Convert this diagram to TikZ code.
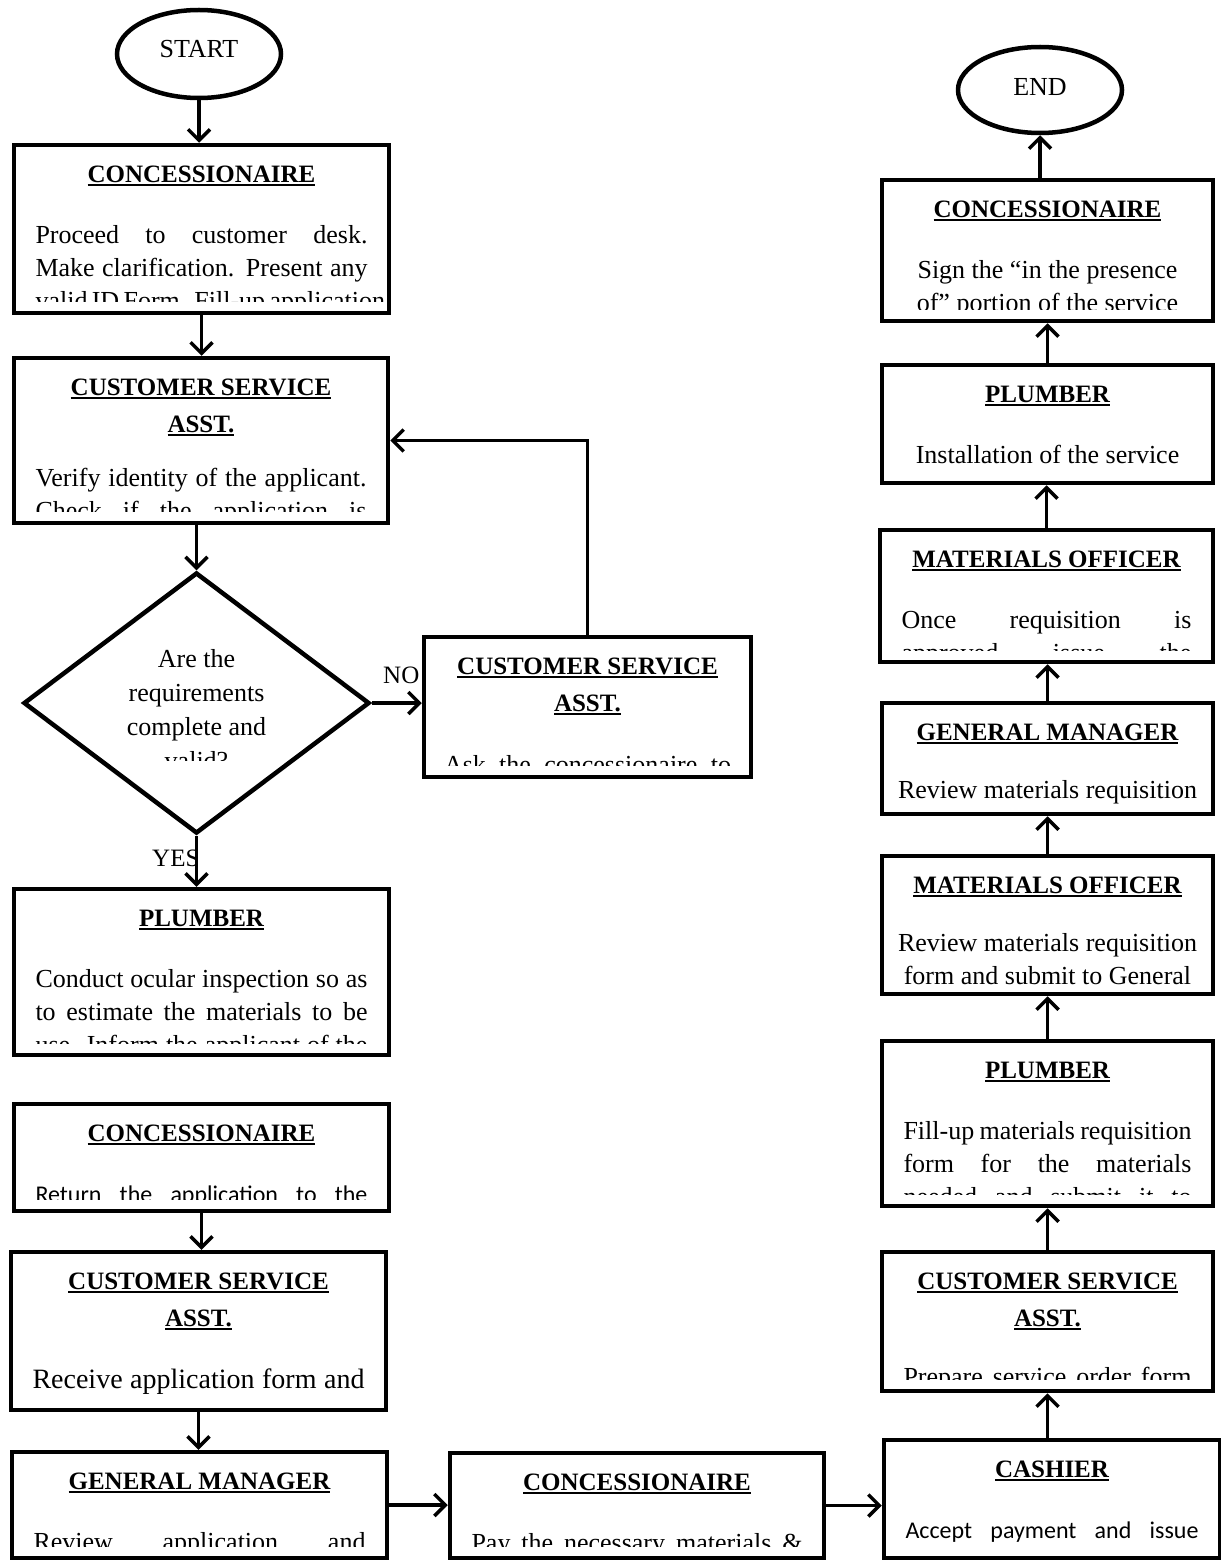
\documentclass[tikz,border=0pt]{standalone}
\usepackage{fontspec}
\setmainfont{Liberation Serif}
\newfontfamily\calfam{Carlito}
\usetikzlibrary{shapes.geometric,arrows.meta}
\newlength{\jw}
\newsavebox{\ttlbox}
\newcommand{\ttl}[1]{\sbox{\ttlbox}{\fontsize{25pt}{33pt}\selectfont\bfseries #1}\rule{0pt}{24pt}\rlap{\rule[-4pt]{\wd\ttlbox}{2pt}}\usebox{\ttlbox}}
\newcommand{\jl}[1]{\makebox[\jw][s]{#1}}
\newcommand{\calf}{\calfam\fontsize{24pt}{33pt}\selectfont}
\begin{document}
\begin{tikzpicture}[x=1pt,y=-1pt,
    boxtext/.code={\def\boxtext{#1}},
    boxcut/.code={\def\boxcut{#1}},
    jw/.code={\setlength{\jw}{#1}},
    inbox/.style={rectangle,anchor=north,inner sep=0pt,minimum size=0pt,align=center},
    procbox/.style={draw,line width=4.5pt,fill=white,inner sep=0pt,boxcut=11pt,
      path picture={
        \node[inbox,font=\fontsize{26pt}{33pt}\selectfont]
          at ([yshift=-11pt]path picture bounding box.north) {\boxtext};
        \fill[white] ([yshift=\boxcut]path picture bounding box.south west) rectangle (path picture bounding box.south east);
      }},
    terminal/.style={ellipse,draw,line width=4.5pt,inner sep=0pt,minimum width=164pt,font=\fontsize{26pt}{30pt}\selectfont},
    lab/.style={anchor=base west,inner sep=0pt,font=\fontsize{25pt}{30pt}\selectfont},
    arr/.style={line width=3.5pt,-{Straight Barb[length=11pt,width=22pt,line width=3.5pt]}}]
  \useasboundingbox (0,0) rectangle (1220,1562);
  % labels first, the boxes cover them
  \node[lab] (nolab) at (383,683) {NO};
  \node[lab] (yeslab) at (152,866) {YES};
  % left column
  \node[terminal,minimum height=88pt,text depth=11pt] (start) at (199,54) {START};
  \node[procbox,minimum width=375pt,minimum height=168pt,jw=332pt,
    boxtext={\ttl{CONCESSIONAIRE}\\[28pt]\jl{Proceed to customer desk.}\\\jl{Make clarification. Present any}\\\jl{valid ID Form. Fill-up application}}] (con1) at (201.5,229) {};
  \node[procbox,minimum width=374pt,minimum height=165pt,jw=331pt,
    boxtext={\ttl{CUSTOMER SERVICE}\\[4pt]\ttl{ASST.}\\[21pt]\jl{Verify identity of the applicant.}\\\jl{Check if the application is}}] (csa1) at (201,440.5) {};
  \node[diamond,draw,line width=4.5pt,fill=white,inner sep=0pt,minimum width=346pt,minimum height=261pt,
    path picture={
      \node[inbox,font=\fontsize{26pt}{34pt}\selectfont]
        at ([yshift=-67.5pt]path picture bounding box.north) {\rule{0pt}{24pt}Are the\\requirements\\complete and\\valid?};
      \fill[white] ([yshift=-187.5pt]path picture bounding box.north west) rectangle (path picture bounding box.south east);
    }] (dec) at (196.5,703) {};
  \node[procbox,minimum width=327pt,minimum height=140pt,jw=287pt,
    boxtext={\ttl{CUSTOMER SERVICE}\\[4pt]\ttl{ASST.}\\[29pt]\jl{Ask the concessionaire to}}] (csa2) at (587.5,707) {};
  \node[procbox,minimum width=375pt,minimum height=166pt,jw=332pt,
    boxtext={\ttl{PLUMBER}\\[28pt]\jl{Conduct ocular inspection so as}\\\jl{to estimate the materials to be}\\\jl{use. Inform the applicant of the}}] (plum1) at (201.5,972) {};
  \node[procbox,minimum width=375pt,minimum height=107pt,jw=332pt,
    boxtext={\ttl{CONCESSIONAIRE}\\[28pt]\jl{\calf Return the application to the}}] (con2) at (201.5,1157.5) {};
  \node[procbox,minimum width=375pt,minimum height=158pt,jw=332pt,
    boxtext={\ttl{CUSTOMER SERVICE}\\[4pt]\ttl{ASST.}\\[29pt]\jl{\fontsize{28pt}{33pt}\selectfont Receive application form and}}] (csa3) at (198.5,1331) {};
  \node[procbox,minimum width=375pt,minimum height=106pt,jw=332pt,
    boxtext={\ttl{GENERAL MANAGER}\\[28pt]\jl{Review application and}}] (gm1) at (199.5,1505) {};
  % bottom row
  \node[procbox,minimum width=374pt,minimum height=105pt,jw=331pt,
    boxtext={\ttl{CONCESSIONAIRE}\\[28pt]\jl{Pay the necessary materials \&}}] (con3) at (637,1505.5) {};
  \node[procbox,minimum width=336pt,minimum height=118pt,jw=293pt,
    boxtext={\ttl{CASHIER}\\[28pt]\jl{\calf Accept payment and issue}}] (cash) at (1052,1499) {};
  % right column
  \node[procbox,minimum width=331pt,minimum height=139pt,jw=288pt,
    boxtext={\ttl{CUSTOMER SERVICE}\\[4pt]\ttl{ASST.}\\[26pt]\jl{Prepare service order form}}] (csa4) at (1047.5,1321.5) {};
  \node[procbox,minimum width=331pt,minimum height=165pt,jw=288pt,
    boxtext={\ttl{PLUMBER}\\[28pt]\jl{Fill-up materials requisition}\\\jl{form for the materials}\\\jl{needed and submit it to}}] (plum2) at (1047.5,1123.5) {};
  \node[procbox,minimum width=331pt,minimum height=138pt,jw=288pt,boxcut=5pt,
    boxtext={\ttl{MATERIALS OFFICER}\\[25pt]Review materials requisition\\form and submit to General}] (mo1) at (1047.5,925) {};
  \node[procbox,minimum width=331pt,minimum height=111pt,jw=288pt,boxcut=7pt,
    boxtext={\ttl{GENERAL MANAGER}\\[25pt]Review materials requisition}] (gm2) at (1047.5,758.5) {};
  \node[procbox,minimum width=333pt,minimum height=132pt,jw=290pt,
    boxtext={\ttl{MATERIALS OFFICER}\\[28pt]\jl{Once requisition is}\\\jl{approved issue the}}] (mo2) at (1046.5,596) {};
  \node[procbox,minimum width=331pt,minimum height=118pt,jw=288pt,
    boxtext={\ttl{PLUMBER}\\[28pt]Installation of the service}] (plum3) at (1047.5,424) {};
  \node[procbox,minimum width=331pt,minimum height=141pt,jw=288pt,
    boxtext={\ttl{CONCESSIONAIRE}\\[28pt]Sign the “in the presence\\of” portion of the service}] (con4) at (1047.5,250.5) {};
  \node[terminal,minimum height=86pt,text depth=7pt] (end) at (1040,90) {END};
  % connectors
  \draw[arr] (start) -- (start |- con1.north);
  \draw[arr] (con1.south) -- (con1.south |- csa1.north);
  \draw[arr] (dec.north |- csa1.south) -- (dec.north);
  \draw[arr] (dec.east) -- (dec.east -| csa2.west);
  \draw[arr] (csa2.north) |- (csa1.east);
  \draw[arr] (dec.south) -- (dec.south |- plum1.north);
  \draw[arr] (con2.south) -- (con2.south |- csa3.north);
  \draw[arr] (csa3.south) -- (csa3.south |- gm1.north);
  \draw[arr] (gm1.east) -- (gm1.east -| con3.west);
  \draw[arr] (con3.east) -- (con3.east -| cash.west);
  \draw[arr] (csa4.south |- cash.north) -- (csa4.south);
  \draw[arr] (csa4.north) -- (csa4.north |- plum2.south);
  \draw[arr] (plum2.north) -- (plum2.north |- mo1.south);
  \draw[arr] (mo1.north) -- (mo1.north |- gm2.south);
  \draw[arr] (gm2.north) -- (gm2.north |- mo2.south);
  \draw[arr] (mo2.north) -- (mo2.north |- plum3.south);
  \draw[arr] (plum3.north) -- (plum3.north |- con4.south);
  \draw[arr] (end |- con4.north) -- (end);
\end{tikzpicture}
\end{document}
